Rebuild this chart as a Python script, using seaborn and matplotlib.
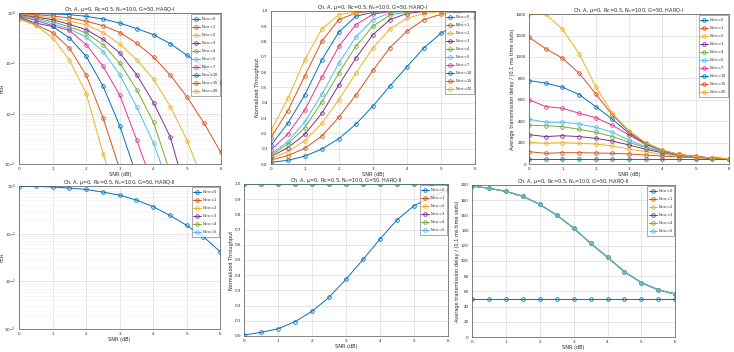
import numpy as np
import pandas as pd
import matplotlib
matplotlib.use("Agg")
import matplotlib.pyplot as plt
import seaborn as sns

# ==========================
# DATA
# ==========================
snr = [0, 0.5, 1, 1.5, 2, 2.5, 3, 3.5, 4, 4.5, 5, 5.5, 6]

nmax_1 = [0, 1, 2, 3, 4, 5, 7, 10, 15, 20]
nmax_2 = [0, 1, 2, 3, 4, 5]

colors_1 = ["#0072BD", "#D95319", "#EDB120", "#7E2F8E", "#77AC30",
            "#4DBEEE", "#E8338F", "#0072BD", "#D95319", "#EDB120"]
colors_2 = colors_1[:6]

# HARQ-I, FER (points below 1e-3 leave the axes)
fer_n0 = [0.97, 0.97, 0.955, 0.93, 0.86, 0.76, 0.63, 0.49, 0.37, 0.245, 0.144, 0.084, 0.04]
fer_n1 = [0.955, 0.93, 0.87, 0.80, 0.69, 0.56, 0.41, 0.25, 0.133, 0.058, 0.0213, 0.0065, 0.0017]
fer_n2 = [0.94, 0.885, 0.795, 0.69, 0.585, 0.41, 0.24, 0.118, 0.0486, 0.0138, 0.0029, 4e-4]
fer_n3 = [0.926, 0.83, 0.737, 0.595, 0.466, 0.30, 0.16, 0.059, 0.0165, 0.0034, 2.2e-4]
fer_n4 = [0.9, 0.8, 0.67, 0.53, 0.40, 0.235, 0.10, 0.03, 0.0067, 6.5e-4]
fer_n5 = [0.885, 0.76, 0.61, 0.48, 0.333, 0.172, 0.059, 0.0135, 0.0026, 3e-4]
fer_n7 = [0.86, 0.715, 0.56, 0.45, 0.234, 0.087, 0.023, 0.003, 3.5e-4]
fer_n10 = [0.83, 0.63, 0.54, 0.32, 0.137, 0.035, 0.0056, 5.7e-4]
fer_n15 = [0.795, 0.585, 0.41, 0.20, 0.058, 0.0082, 7.7e-4]
fer_n20 = [0.76, 0.57, 0.32, 0.116, 0.025, 0.0016, 1.4e-4]
fer_1 = [fer_n0, fer_n1, fer_n2, fer_n3, fer_n4, fer_n5, fer_n7, fer_n10, fer_n15, fer_n20]

# HARQ-I, normalized throughput
thr_n0 = [0.011, 0.024, 0.052, 0.098, 0.166, 0.26, 0.378, 0.509, 0.635, 0.758, 0.854, 0.915, 0.96]
thr_n1 = [0.026, 0.055, 0.103, 0.183, 0.306, 0.45, 0.611, 0.76, 0.867, 0.943, 0.978, 0.991, 0.998]
thr_n2 = [0.035, 0.081, 0.153, 0.266, 0.42, 0.594, 0.758, 0.882, 0.952, 0.983, 0.996, 0.998, 1.0]
thr_n3 = [0.048, 0.107, 0.194, 0.332, 0.517, 0.692, 0.845, 0.943, 0.983, 0.996, 1.0, 1.0, 1.0]
thr_n4 = [0.057, 0.131, 0.238, 0.406, 0.594, 0.769, 0.90, 0.972, 0.993, 1.0, 1.0, 1.0, 1.0]
thr_n5 = [0.066, 0.146, 0.277, 0.456, 0.659, 0.83, 0.943, 0.987, 0.998, 1.0, 1.0, 1.0, 1.0]
thr_n7 = [0.092, 0.196, 0.354, 0.568, 0.769, 0.91, 0.978, 0.996, 1.0, 1.0, 1.0, 1.0, 1.0]
thr_n10 = [0.122, 0.266, 0.452, 0.681, 0.862, 0.965, 0.991, 0.998, 1.0, 1.0, 1.0, 1.0, 1.0]
thr_n15 = [0.17, 0.349, 0.576, 0.803, 0.943, 0.987, 0.998, 1.0, 1.0, 1.0, 1.0, 1.0, 1.0]
thr_n20 = [0.218, 0.428, 0.681, 0.882, 0.976, 0.993, 1.0, 1.0, 1.0, 1.0, 1.0, 1.0, 1.0]
thr_1 = [thr_n0, thr_n1, thr_n2, thr_n3, thr_n4, thr_n5, thr_n7, thr_n10, thr_n15, thr_n20]

# HARQ-I, average transmission delay
dly_n0 = [50] * 13
dly_n1 = [115, 100, 106, 106, 103, 100, 94, 84, 75, 65, 59, 53, 50]
dly_n2 = [203, 193, 200, 193, 187, 168, 140, 115, 90, 75, 62, 53, 50]
dly_n3 = [274, 256, 265, 256, 240, 215, 178, 137, 106, 81, 65, 53, 50]
dly_n4 = [362, 358, 349, 324, 296, 256, 203, 153, 112, 84, 65, 56, 50]
dly_n5 = [418, 390, 390, 374, 343, 296, 224, 162, 115, 87, 69, 56, 50]
dly_n7 = [599, 536, 521, 474, 433, 362, 271, 184, 125, 90, 72, 56, 50]
dly_n10 = [779, 755, 717, 649, 536, 418, 287, 187, 125, 87, 69, 56, 50]
dly_n15 = [1182, 1076, 988, 848, 655, 458, 302, 193, 128, 90, 69, 56, 50]
dly_n20 = [1397, 1397, 1260, 1029, 723, 474, 312, 200, 131, 90, 69, 56, 50]
dly_1 = [dly_n0, dly_n1, dly_n2, dly_n3, dly_n4, dly_n5, dly_n7, dly_n10, dly_n15, dly_n20]

# HARQ-II
fer2_n0 = [0.98, 0.985, 0.955, 0.91, 0.85, 0.75, 0.646, 0.51, 0.37, 0.243, 0.15, 0.087, 0.042]
fer2_rest = [0] * 13
fer_2 = [fer2_n0] + [fer2_rest] * 5

thr2_n0 = [0.007, 0.024, 0.048, 0.095, 0.163, 0.255, 0.374, 0.503, 0.637, 0.763, 0.855, 0.915, 0.96]
thr2_rest = [1.0] * 13
thr_2 = [thr2_n0] + [thr2_rest] * 5

dly2_n0 = [50] * 13
dly2_rest = [198.7, 195.6, 191.6, 185, 174.4, 160.4, 143.2, 123.3, 104.8, 85.9, 71.4, 62.1, 56.4]
dly_2 = [dly2_n0] + [dly2_rest] * 5

title_1 = "Ch. A, $\\mu$=0, Rc=0.5, N$_s$=100, G=50, HARQ-I"
title_2 = "Ch. A, $\\mu$=0, Rc=0.5, N$_s$=100, G=50, HARQ-II"
delay_label = "Average transmission delay / (0.1 ms time slots)"

# ==========================
# PLOT
# ==========================
sns.set_theme(style="whitegrid")
plt.rcParams["font.family"] = ["DejaVu Sans"]

fig = plt.figure(figsize=(7.34, 3.52), dpi=100)
fig.patch.set_facecolor("white")

positions = [
    [0.0259, 0.534, 0.275, 0.429],
    [0.369, 0.534, 0.278, 0.435],
    [0.721, 0.534, 0.272, 0.426],
    [0.0259, 0.0653, 0.274, 0.406],
    [0.333, 0.0455, 0.277, 0.432],
    [0.643, 0.0426, 0.277, 0.432],
]


def draw(ax, series, nmax, colors, title, ylabel):
    for vals, n, c in zip(series, nmax, colors):
        d = pd.DataFrame({"snr": snr[:len(vals)], "v": vals})
        sns.lineplot(data=d, x="snr", y="v", ax=ax, color=c, marker="o",
                     markersize=2.6, markerfacecolor="none", markeredgecolor=c,
                     markeredgewidth=0.6, linewidth=0.7,
                     label="N$_{max}$=" + str(n))
    ax.set_title(title, fontsize=3.6, pad=1.5)
    ax.set_xlabel("SNR (dB)", fontsize=3.6, labelpad=0.5)
    ax.set_ylabel(ylabel, fontsize=3.6, labelpad=0.5)
    ax.set_xlim(0, 6)
    ax.set_xticks(range(7))
    ax.tick_params(labelsize=3.0, length=1.5, pad=0.8, width=0.4)
    ax.set_facecolor("white")
    ax.grid(True, color="#dddddd", linewidth=0.5)
    for s in ax.spines.values():
        s.set_color("#555555")
        s.set_linewidth(0.5)
    leg = ax.legend(loc="upper right", fontsize=2.6, frameon=True,
                    fancybox=False, labelspacing=0.12, handlelength=2.2,
                    borderpad=0.3, handletextpad=0.3, borderaxespad=0.3)
    leg.get_frame().set_edgecolor("#444444")
    leg.get_frame().set_linewidth(0.4)


def log_axis(ax):
    ax.set_yscale("log", nonpositive="mask")
    ax.set_ylim(1e-3, 1)
    ax.grid(True, which="minor", color="#eeeeee", linewidth=0.4)
    ax.yaxis.set_label_coords(-0.07, 0.5)


ax1 = fig.add_axes(positions[0])
ax1.set_yscale("log", nonpositive="mask")
draw(ax1, fer_1, nmax_1, colors_1, title_1, "FER")
log_axis(ax1)

ax2 = fig.add_axes(positions[1])
draw(ax2, thr_1, nmax_1, colors_1, title_1, "Normalized Throughput")
ax2.set_ylim(0, 1)
ax2.set_yticks(np.round(np.arange(0, 1.01, 0.1), 1))

ax3 = fig.add_axes(positions[2])
draw(ax3, dly_1, nmax_1, colors_1, title_1, delay_label)
ax3.set_ylim(0, 1400)
ax3.set_yticks(range(0, 1401, 200))

ax4 = fig.add_axes(positions[3])
ax4.set_yscale("log", nonpositive="mask")
draw(ax4, fer_2, nmax_2, colors_2, title_2, "FER")
log_axis(ax4)

ax5 = fig.add_axes(positions[4])
draw(ax5, thr_2, nmax_2, colors_2, title_2, "Normalized Throughput")
ax5.set_ylim(0, 1)
ax5.set_yticks(np.round(np.arange(0, 1.01, 0.1), 1))

ax6 = fig.add_axes(positions[5])
draw(ax6, dly_2, nmax_2, colors_2, title_2, delay_label)
ax6.set_ylim(0, 200)
ax6.set_yticks(range(0, 201, 20))

plt.savefig("out.png", dpi=100, facecolor="white")
